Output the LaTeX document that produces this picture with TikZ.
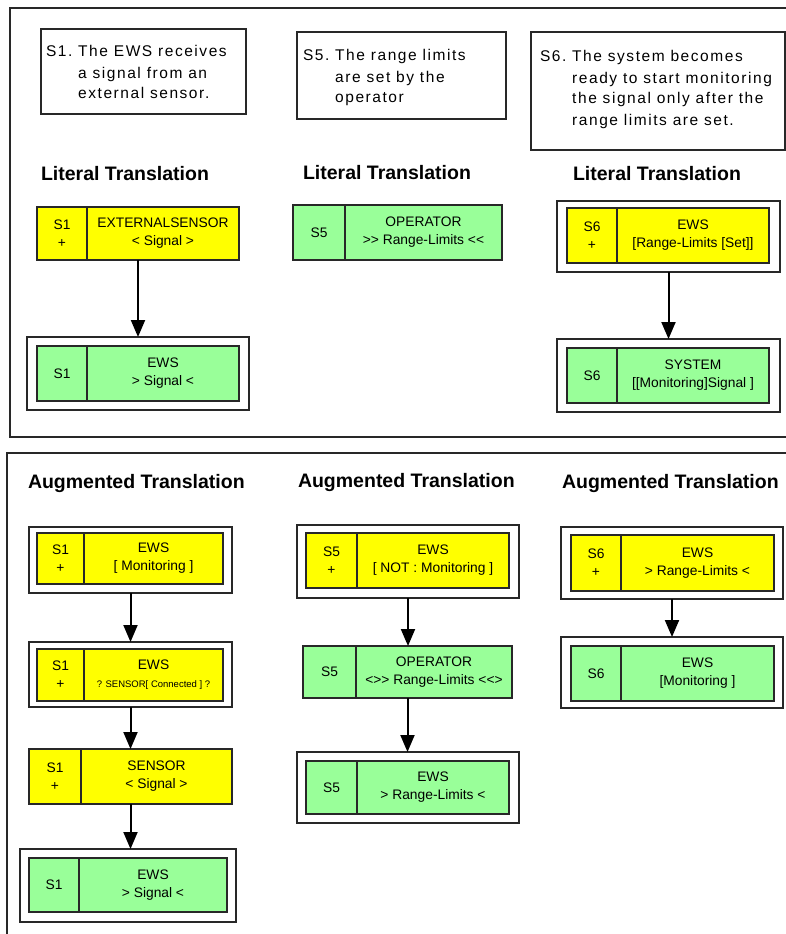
\documentclass[tikz,border=0pt]{standalone}
\usepackage{fontspec}
\setmainfont{Liberation Sans}
\newfontfamily\descfont[LetterSpace=10]{Liberation Sans}
\usetikzlibrary{arrows.meta}

\definecolor{cardyellow}{RGB}{255,255,0}
\definecolor{cardgreen}{RGB}{153,255,153}
\definecolor{inkgray}{RGB}{40,40,40}

\tikzset{
  panel/.style={draw=inkgray, line width=1.7pt},
  descbox/.style={draw=inkgray, line width=1.1pt, inner sep=0pt, outer sep=0pt},
  desctext/.style={inner sep=0pt, outer sep=0pt, font=\descfont\fontsize{15.5}{21}\selectfont},
  heading/.style={inner sep=0pt, outer sep=0pt, font=\bfseries\fontsize{19.5}{22}\selectfont},
  cardbody/.style={inner sep=0pt, outer sep=0pt},
  cardcell/.style={draw=inkgray, line width=1.2pt, inner sep=0pt, outer sep=0pt,
    align=center, font=\fontsize{13.8}{18}\selectfont},
  outframe/.style={draw=inkgray, line width=1.2pt, fill=white, inner sep=0pt, outer sep=0pt},
  flow/.style={draw=black, line width=2pt, -{Triangle[width=14pt,length=17pt]}},
}

% #1 name, #2 fill, #3 left, #4 top, #5 divider, #6 right, #7 bottom, #8 label, #9 content
\newcommand\card[9]{%
  \node[cardbody, anchor=north west, minimum width={#6-#3}, minimum height={#7-#4}] (#1) at (#3,#4) {};
  \node[cardcell, fill=#2, anchor=north west, minimum width={#5-#3}, minimum height={#7-#4}] (#1l) at (#3,#4) {#8};
  \node[cardcell, fill=#2, anchor=north west, minimum width={#6-#5}, minimum height={#7-#4}] (#1r) at (#5,#4) {#9};
}
% #1 name, #2 left, #3 top, #4 right, #5 bottom
\newcommand\cardframe[5]{%
  \node[outframe, anchor=north west, minimum width={#4-#2}, minimum height={#5-#3}] (#1) at (#2,#3) {};
}
% #1 name, #2 left, #3 top, #4 right, #5 bottom
\newcommand\descframe[5]{%
  \node[descbox, anchor=north west, minimum width={#4-#2}, minimum height={#5-#3}] (#1) at (#2,#3) {};
}

\begin{document}
\begin{tikzpicture}[x=1pt,y=-1pt]
\useasboundingbox (0,0) rectangle (786,934);
\clip (0,0) rectangle (786,934);
\fill[white] (0,0) rectangle (786,934);

% two panels
\draw[panel] (10,8) rectangle (820,437);
\draw[panel] (7,453) rectangle (820,960);

% requirement statements
\descframe{s1box}{41}{29}{246}{114}
\descframe{s5box}{297}{32}{506}{119}
\descframe{s6box}{531}{32}{785}{150}
\node[desctext, anchor=base west] (s1text) at (46,57)
  {\begin{tabular}[t]{@{}l@{\ }l@{}}S1.&The EWS receives\\&a signal from an\\&external sensor.\end{tabular}};
\node[desctext, anchor=base west] (s5text) at (303,61)
  {\begin{tabular}[t]{@{}l@{\ }l@{}}S5.&The range limits\\&are set by the\\&operator\end{tabular}};
\node[desctext, anchor=base west] (s6text) at (540,62)
  {\begin{tabular}[t]{@{}l@{\ }l@{}}S6.&The system becomes\\&ready to start monitoring\\&the signal only after the\\&range limits are set.\end{tabular}};

% headings
\node[heading, anchor=base west] (lit1) at (41,180) {Literal Translation};
\node[heading, anchor=base west] (lit5) at (303,179) {Literal Translation};
\node[heading, anchor=base west] (lit6) at (573,180) {Literal Translation};
\node[heading, anchor=base west] (aug1) at (28,488) {Augmented Translation};
\node[heading, anchor=base west] (aug5) at (298,487) {Augmented Translation};
\node[heading, anchor=base west] (aug6) at (562,488) {Augmented Translation};

% literal translation, S1
\card{a1}{cardyellow}{37}{207}{87}{239}{260}{S1\\+}{EXTERNALSENSOR\\< Signal >}
\cardframe{a2f}{27}{337}{249}{410}
\card{a2}{cardgreen}{37}{346}{87}{239}{401}{S1}{EWS\\> Signal <}
\draw[flow] (a1.south) -- (a1.south |- a2f.north);

% literal translation, S5
\card{b1}{cardgreen}{293}{205}{345}{502}{260}{S5}{OPERATOR\\>{}> Range-Limits <{}<}

% literal translation, S6
\cardframe{c1f}{557}{201}{780}{272}
\card{c1}{cardyellow}{567}{208}{617}{769}{263}{S6\\+}{EWS\\{[}Range-Limits [Set]]}
\cardframe{c2f}{557}{339}{780}{412}
\card{c2}{cardgreen}{567}{348}{617}{769}{403}{S6}{SYSTEM\\{[}[Monitoring]Signal ]}
\draw[flow] (c1f.south) -- (c1f.south |- c2f.north);

% augmented translation, S1
\cardframe{d1f}{29}{527}{232}{593}
\card{d1}{cardyellow}{37}{533}{84}{223}{584}{S1\\+}{EWS\\{[} Monitoring ]}
\cardframe{d2f}{29}{642}{232}{707}
\card{d2}{cardyellow}{37}{649}{84}{223}{701}{S1\\+}{EWS\\{\fontsize{9.5}{18}\selectfont ? SENSOR[ Connected ] ?}}
\card{d3}{cardyellow}{29}{749}{81}{232}{804}{S1\\+}{SENSOR\\< Signal >}
\cardframe{d4f}{20}{849}{236}{922}
\card{d4}{cardgreen}{29}{858}{79}{227}{912}{S1}{EWS\\> Signal <}
\draw[flow] (d1f.south) -- (d1f.south |- d2f.north);
\draw[flow] (d2f.south) -- (d2f.south |- d3.north);
\draw[flow] (d3.south) -- (d3.south |- d4f.north);

% augmented translation, S5
\cardframe{e1f}{297}{525}{519}{598}
\card{e1}{cardyellow}{306}{533}{357}{509}{588}{S5\\+}{EWS\\{[} NOT : Monitoring ]}
\card{e2}{cardgreen}{303}{646}{356}{512}{698}{S5}{OPERATOR\\<>{}> Range-Limits <{}<>}
\cardframe{e3f}{297}{752}{519}{823}
\card{e3}{cardgreen}{306}{761}{357}{509}{814}{S5}{EWS\\> Range-Limits <}
\draw[flow] (e1f.south) -- (e1f.south |- e2.north);
\draw[flow] (e2.south) -- (e2.south |- e3f.north);

% augmented translation, S6
\cardframe{f1f}{561}{527}{783}{599}
\card{f1}{cardyellow}{571}{535}{621}{774}{591}{S6\\+}{EWS\\> Range-Limits <}
\cardframe{f2f}{561}{637}{783}{708}
\card{f2}{cardgreen}{571}{646}{621}{774}{701}{S6}{EWS\\{[}Monitoring ]}
\draw[flow] (f1f.south) -- (f1f.south |- f2f.north);
\end{tikzpicture}
\end{document}
